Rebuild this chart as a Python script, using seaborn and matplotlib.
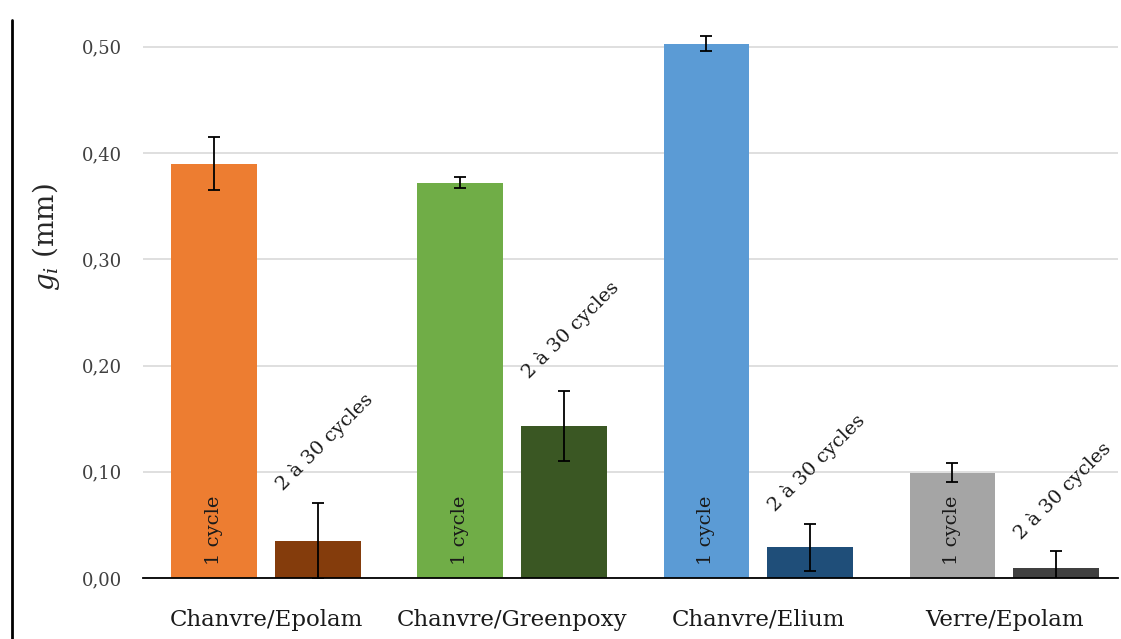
import matplotlib
matplotlib.use("Agg")
import matplotlib.pyplot as plt
import seaborn as sns
import pandas as pd
from matplotlib.lines import Line2D

materials = ["Chanvre/Epolam", "Chanvre/Greenpoxy", "Chanvre/Elium", "Verre/Epolam"]
cycles = ["1 cycle", "2 à 30 cycles"]
values_1 = [0.390, 0.372, 0.503, 0.099]
errors_1 = [0.025, 0.005, 0.007, 0.009]
values_2 = [0.035, 0.143, 0.029, 0.009]
errors_2 = [0.036, 0.033, 0.022, 0.016]
colors_1 = ["#ED7D31", "#70AD47", "#5B9BD5", "#A5A5A5"]
colors_2 = ["#843C0C", "#3A5723", "#1F4E79", "#404040"]
yticks = [0.0, 0.1, 0.2, 0.3, 0.4, 0.5]
ytick_labels = ["0,00", "0,10", "0,20", "0,30", "0,40", "0,50"]

df = pd.DataFrame({
    "material": materials * 2,
    "cycle": [cycles[0]] * 4 + [cycles[1]] * 4,
    "value": values_1 + values_2,
})

sns.set_theme(style="white")
plt.rcParams["font.family"] = ["DejaVu Serif"]
plt.rcParams["mathtext.fontset"] = "dejavuserif"

fig = plt.figure(figsize=(11.21, 6.39), dpi=100)
ax = fig.add_axes([143 / 1121, (639 - 578) / 639, (1118 - 143) / 1121, 578 / 639])

sns.barplot(data=df, x="material", y="value", hue="cycle", order=materials,
            hue_order=cycles, width=0.84, gap=0.17, errorbar=None, ax=ax,
            legend=False, linewidth=0)

bars = list(ax.patches)[:8]
bars1 = bars[:4]
bars2 = bars[4:8]
for p, c in zip(bars1, colors_1):
    p.set_facecolor(c)
for p, c in zip(bars2, colors_2):
    p.set_facecolor(c)

for grp, vals, errs in ((bars1, values_1, errors_1), (bars2, values_2, errors_2)):
    xs = [p.get_x() + p.get_width() / 2 for p in grp]
    ax.errorbar(xs, vals, yerr=errs, fmt="none", ecolor="black", elinewidth=1.3,
                capsize=4, capthick=1.3, zorder=5)

for p in bars1:
    ax.text(p.get_x() + p.get_width() / 2, 0.012, "1 cycle", rotation=90,
            ha="center", va="bottom", fontsize=14, color="#1a1a1a", zorder=6)
for p, v, e in zip(bars2, values_2, errors_2):
    ax.text(p.get_x() + 0.045, v + e + 0.008, "2 à 30 cycles", rotation=45,
            rotation_mode="anchor", ha="left", va="bottom", fontsize=14,
            color="#1a1a1a", zorder=6)

ax.set_ylim(0, 0.544)
ax.set_xlim(-0.5, 3.463)
ax.set_yticks(yticks)
ax.set_yticklabels(ytick_labels, fontsize=13, color="#404040")
ax.tick_params(axis="x", labelsize=16.5, pad=22, length=0, colors="#1a1a1a")
ax.tick_params(axis="y", length=0, pad=15)
ax.set_xlabel("")
ax.set_ylabel(r"$g_i$ (mm)", fontsize=20)
ax.yaxis.set_label_coords(-0.083, 0.59)
ax.grid(axis="y", color="#D9D9D9", linewidth=1.2)
ax.set_axisbelow(True)
for s in ["top", "right", "left"]:
    ax.spines[s].set_visible(False)
ax.spines["bottom"].set_color("black")
ax.spines["bottom"].set_linewidth(1.3)

fig.add_artist(Line2D([12 / 1121, 12 / 1121], [0, 1 - 20 / 639], color="black",
                      linewidth=2, transform=fig.transFigure))

fig.savefig("out.png", dpi=100)
